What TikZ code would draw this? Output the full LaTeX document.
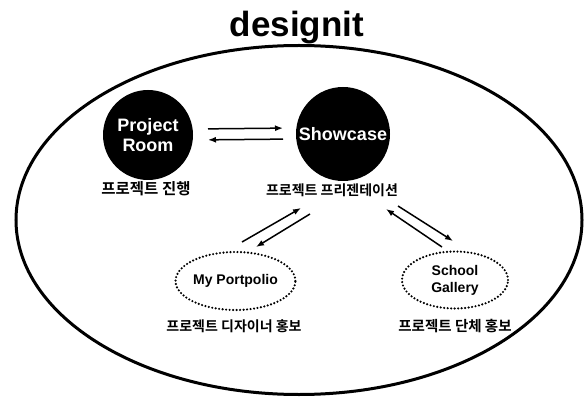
\documentclass[tikz,border=0pt]{standalone}
\usepackage{fontspec}
\setmainfont{Liberation Sans}
\newfontfamily\kofont{Noto Sans CJK KR}[BoldFont={Noto Sans CJK KR Bold}]
\usetikzlibrary{shapes.geometric,arrows.meta}
\begin{document}
\begin{tikzpicture}
  [x=1pt,y=-1pt,>={Latex[length=8pt,width=6pt]},
   room/.style={circle,fill=black,text=white,align=center,inner sep=0,
                outer sep=0,font=\bfseries\fontsize{18}{20}\selectfont},
   page/.style={ellipse,draw=black,line width=2.4pt,line cap=round,
                dash pattern=on 0pt off 3.5pt,align=center,inner sep=0,
                font=\bfseries\fontsize{14}{17}\selectfont},
   kor/.style={font=\kofont\bfseries\fontsize{14}{16}\selectfont,inner sep=0},
   arr/.style={line width=1.5pt,->}]
  \useasboundingbox (0,0) rectangle (586,398);
  \node[ellipse,draw,line width=3pt,minimum width=566pt,minimum height=349pt,
        inner sep=0] (frame) at (299,220) {};
  \node[anchor=base,inner sep=0,font=\bfseries\fontsize{35}{35}\selectfont]
        (title) at (297,37) {designit};
  \node[room,minimum size=90pt] (pr) at (148,135) {Project\\Room};
  \node[room,minimum size=94pt] (sc) at (343,134) {Showcase};
  \node[kor,font=\kofont\bfseries\fontsize{15.5}{17}\selectfont] (prt) at (146,189) {프로젝트 진행};
  \node[kor] (sct) at (332,190) {프로젝트 프리젠테이션};
  \node[kor] (mpt) at (234,326) {프로젝트 디자이너 홍보};
  \node[kor,font=\kofont\bfseries\fontsize{14.5}{16}\selectfont] (sgt) at (455,326) {프로젝트 단체 홍보};
  \node[page,minimum width=108pt,minimum height=58pt] (mp) at (235.5,281) {My Portpolio};
  \node[page,minimum width=106pt,minimum height=57pt] (sg) at (455,280) {School\\Gallery};
  \coordinate (mpa) at (242,242);
  \coordinate (sca) at (301,208);
  \coordinate (scb) at (310,214);
  \coordinate (mpb) at (256,247);
  \coordinate (sga) at (442,247);
  \coordinate (scc) at (386,209);
  \coordinate (scd) at (398,206);
  \coordinate (sgb) at (453,241);
  \draw[arr,shorten <=15pt,shorten >=13pt] ([yshift=6pt]pr.east) -- ([yshift=6pt]sc.west);
  \draw[arr,shorten <=13pt,shorten >=15pt] ([yshift=-5pt]sc.west) -- ([yshift=-5pt]pr.east);
  \draw[arr] (mpa) -- (sca);
  \draw[arr] (scb) -- (mpb);
  \draw[arr] (sga) -- (scc);
  \draw[arr] (scd) -- (sgb);
\end{tikzpicture}
\end{document}
